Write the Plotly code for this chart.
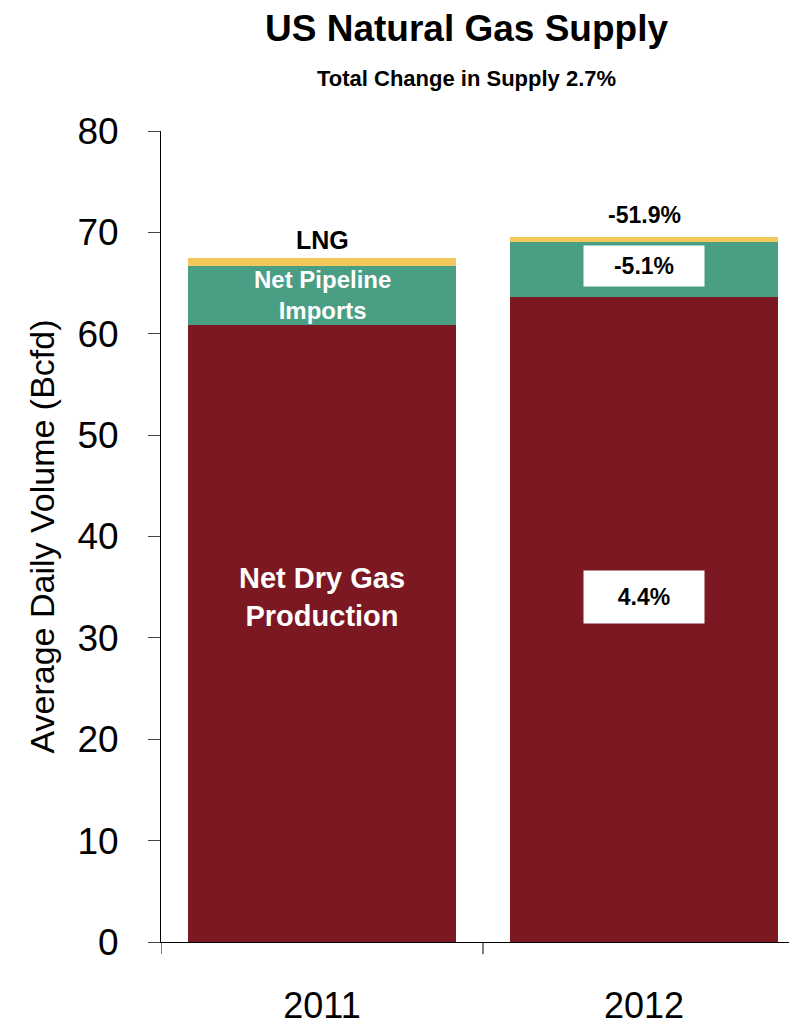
import plotly.graph_objects as go

years = ["2011", "2012"]
production = [60.9, 63.6]
pipeline = [5.8, 5.5]
lng = [0.8, 0.4]
changes = ["4.4%", "-5.1%", "-51.9%"]

FONT = "Liberation Sans, Arial, sans-serif"
xpos = list(range(len(years)))

fig = go.Figure()
for name, vals, color in [
    ("Net Dry Gas Production", production, "#7b1822"),
    ("Net Pipeline Imports", pipeline, "#4a9e84"),
    ("LNG", lng, "#f2c85b"),
]:
    fig.add_trace(go.Bar(x=xpos, y=vals, name=name, marker=dict(color=color, line=dict(width=0)), width=0.83))

bold = dict(family=FONT, size=29, color="white")
fig.add_annotation(x=0, y=34, text="<b>Net Dry Gas<br>Production</b>", showarrow=False, font=bold)
fig.add_annotation(x=0, y=production[0] + pipeline[0] / 2, text="<b>Net Pipeline<br>Imports</b>",
                   showarrow=False, font=dict(family=FONT, size=24, color="white"))
fig.add_annotation(x=0, y=production[0] + pipeline[0] + lng[0], yshift=18, text="<b>LNG</b>",
                   showarrow=False, font=dict(family=FONT, size=25, color="black"))

box = dict(family=FONT, size=23, color="black")
fig.add_annotation(x=1, y=34, text="<b>" + changes[0] + "</b>", showarrow=False, font=box,
                   bgcolor="white", width=118, height=50)
fig.add_annotation(x=1, y=production[1] + pipeline[1] / 2 + 0.3, text="<b>" + changes[1] + "</b>",
                   showarrow=False, font=box, bgcolor="white", width=118, height=38)
fig.add_annotation(x=1, y=production[1] + pipeline[1] + lng[1], yshift=22, text="<b>" + changes[2] + "</b>",
                   showarrow=False, font=box)

# titles
fig.add_annotation(xref="paper", yref="paper", x=0.475, y=1.0, yanchor="middle", yshift=103,
                   text="<b>US Natural Gas Supply</b>", showarrow=False, font=dict(family=FONT, size=37))
fig.add_annotation(xref="paper", yref="paper", x=0.475, y=1.0, yanchor="middle", yshift=53,
                   text="<b>Total Change in Supply 2.7%</b>", showarrow=False, font=dict(family=FONT, size=22))

fig.update_layout(
    barmode="stack",
    width=797, height=1029,
    plot_bgcolor="white", paper_bgcolor="white",
    showlegend=False,
    margin=dict(l=153, r=0, t=123, b=95),
    font=dict(family=FONT, color="black"),
)
fig.update_yaxes(range=[0, 80], dtick=10, showgrid=False, showline=True, linecolor="black",
                 ticks="outside", ticklen=12, tickfont=dict(size=37), ticklabelstandoff=22,
                 title=dict(text="Average Daily Volume (Bcfd)", font=dict(size=34), standoff=12))
fig.update_xaxes(range=[-0.5, 1.5], tickvals=xpos, ticktext=years, showline=True, linecolor="black",
                 showgrid=False, zeroline=False, ticks="outside", ticklen=32, tickcolor="white",
                 tickfont=dict(size=36))
# tick marks at category boundaries
for b in [-0.5, 0.5]:
    fig.add_shape(type="line", xref="x", yref="paper", x0=b, x1=b, y0=0, y1=-0.015,
                  line=dict(color="black", width=1))

fig.write_html("out.html")
